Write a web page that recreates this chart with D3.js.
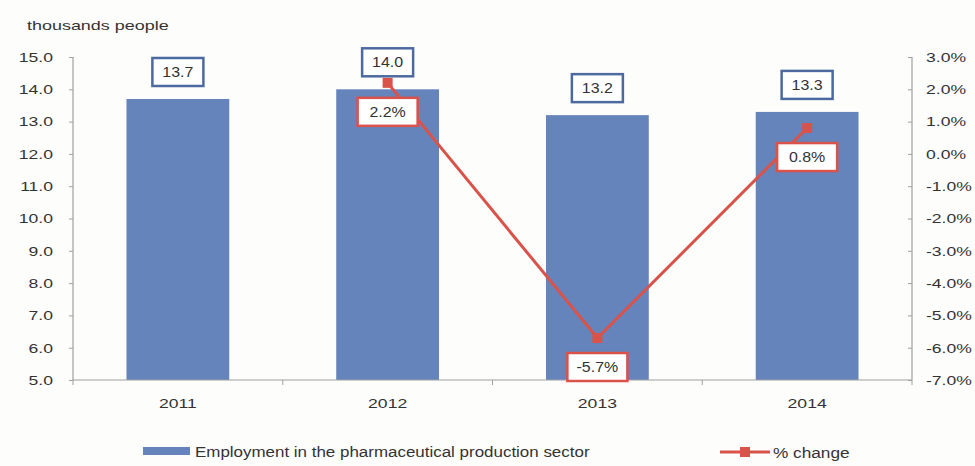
<!DOCTYPE html>
<html>
<head>
<meta charset="utf-8">
<script src="https://cdn.jsdelivr.net/npm/d3@7"></script>
<style>
  html, body { margin: 0; padding: 0; background: #fdfdfb; }
  svg { display: block; font-family: "Liberation Sans", Arial, sans-serif; }
</style>
</head>
<body>
<svg id="chart" width="975" height="466"></svg>
<script>
// Employment in pharmaceutical production (thousand people) and yearly % change
const years = ["2011", "2012", "2013", "2014"];
const employment = [13.7, 14.0, 13.2, 13.3];
const pctChange = [null, 2.2, -5.7, 0.8];
const leftTicks = [5, 6, 7, 8, 9, 10, 11, 12, 13, 14, 15];
const rightTicks = [-7, -6, -5, -4, -3, -2, -1, 0, 1, 2, 3];
const unitLabel = "thousands people";
const legendLabels = ["Employment in the pharmaceutical production sector", "% change"];

const barColor = "#6584bb";
const boxBlue = "#4d6aa0";
const lineRed = "#d9534a";
const axisColor = "#a0a0a0";
const textColor = "#333";

// widen glyphs horizontally so labels get the broad look of the chart's typeface
function stretch(sel, k) {
  sel.each(function () {
    const w = this.getComputedTextLength();
    d3.select(this).attr("textLength", w * k).attr("lengthAdjust", "spacingAndGlyphs");
  });
}

const svg = d3.select("#chart");
const plot = { left: 73, right: 912, top: 57, bottom: 380 };

const x = d3.scaleBand()
  .domain(years)
  .range([plot.left, plot.right])
  .paddingInner(0.51)
  .paddingOuter(0.255);

const yL = d3.scaleLinear().domain([5, 15]).range([plot.bottom, plot.top]);
const yR = d3.scaleLinear().domain([-7, 3]).range([plot.bottom, plot.top]);

// unit caption
svg.append("text")
  .attr("x", 27).attr("y", 30)
  .attr("font-size", 13).attr("fill", textColor)
  .text(unitLabel)
  .call(stretch, 1.38);

// bars
svg.append("g").selectAll("rect")
  .data(years.map((yr, i) => ({ yr, v: employment[i] })))
  .join("rect")
  .attr("x", d => x(d.yr))
  .attr("width", x.bandwidth())
  .attr("y", d => yL(d.v))
  .attr("height", d => yL(5) - yL(d.v))
  .attr("fill", barColor);

// left axis
const gL = svg.append("g").attr("transform", `translate(${plot.left},0)`)
  .call(d3.axisLeft(yL).tickValues(leftTicks).tickFormat(d3.format(".1f")).tickSize(4).tickPadding(16));
// right axis
const gR = svg.append("g").attr("transform", `translate(${plot.right},0)`)
  .call(d3.axisRight(yR).tickValues(rightTicks).tickFormat(d => d.toFixed(1) + "%").tickSize(0).tickPadding(14));
gR.selectAll(".tick").append("line").attr("x1", -4).attr("x2", 0).attr("stroke", axisColor);
// bottom axis with ticks on band boundaries
const gB = svg.append("g").attr("transform", `translate(0,${plot.bottom})`)
  .call(d3.axisBottom(x).tickSize(0).tickPadding(18));
const step = x.step();
const bounds = d3.range(1, years.length + 1).map(i => plot.left + i * step);
gB.selectAll(".bound").data([plot.left, ...bounds]).join("line")
  .attr("class", "bound")
  .attr("x1", d => d).attr("x2", d => d)
  .attr("y1", 0).attr("y2", 5)
  .attr("stroke", axisColor);

[gL, gR, gB].forEach(g => {
  g.select(".domain").attr("stroke", axisColor).attr("stroke-width", 1.2);
  g.selectAll(".tick line").attr("stroke", axisColor);
  g.selectAll(".tick text").attr("fill", textColor).attr("font-size", 13.5)
    .attr("font-family", "Liberation Sans, Arial, sans-serif")
    .call(stretch, 1.3);
});
gB.select(".domain").attr("d", `M${plot.left},0H${plot.right}`);
gR.select(".domain").attr("d", `M0,${plot.top}V${plot.bottom}`);
gL.select(".domain").attr("d", `M0,${plot.top}V${plot.bottom}`);

// % change line
const pts = years.map((yr, i) => ({ yr, v: pctChange[i] })).filter(d => d.v !== null);
const line = d3.line().x(d => x(d.yr) + x.bandwidth() / 2).y(d => yR(d.v));
svg.append("path").datum(pts)
  .attr("d", line)
  .attr("fill", "none")
  .attr("stroke", lineRed)
  .attr("stroke-width", 3);
svg.append("g").selectAll("rect")
  .data(pts).join("rect")
  .attr("x", d => x(d.yr) + x.bandwidth() / 2 - 5)
  .attr("y", d => yR(d.v) - 5)
  .attr("width", 10).attr("height", 10)
  .attr("fill", lineRed);

// boxed value labels
function boxedLabel(g, cx, cy, txt, w, stroke) {
  g.append("rect")
    .attr("x", cx - w / 2).attr("y", cy - 14)
    .attr("width", w).attr("height", 28)
    .attr("fill", "#fff")
    .attr("stroke", stroke).attr("stroke-width", 2.5);
  g.append("text")
    .attr("x", cx).attr("y", cy + 5)
    .attr("text-anchor", "middle")
    .attr("font-size", 14).attr("fill", textColor)
    .text(txt)
    .call(stretch, 1.14);
}
const labels = svg.append("g");
years.forEach((yr, i) => {
  const cx = x(yr) + x.bandwidth() / 2;
  boxedLabel(labels, cx, yL(employment[i]) - 27, employment[i].toFixed(1), 51, boxBlue);
});
pts.forEach(d => {
  const cx = x(d.yr) + x.bandwidth() / 2;
  boxedLabel(labels, cx, yR(d.v) + 29, d.v.toFixed(1) + "%", 60, lineRed);
});

// legend
const lg = svg.append("g");
lg.append("rect").attr("x", 143).attr("y", 447).attr("width", 47).attr("height", 8).attr("fill", barColor);
lg.append("text").attr("x", 195).attr("y", 457).attr("font-size", 14).attr("fill", textColor)
  .text(legendLabels[0]).call(stretch, 1.21);
lg.append("line").attr("x1", 720).attr("x2", 770).attr("y1", 452).attr("y2", 452)
  .attr("stroke", lineRed).attr("stroke-width", 3);
lg.append("rect").attr("x", 740).attr("y", 447).attr("width", 10).attr("height", 10).attr("fill", lineRed);
lg.append("text").attr("x", 773).attr("y", 458).attr("font-size", 14).attr("fill", textColor)
  .text(legendLabels[1]).call(stretch, 1.23);
</script>
</body>
</html>
